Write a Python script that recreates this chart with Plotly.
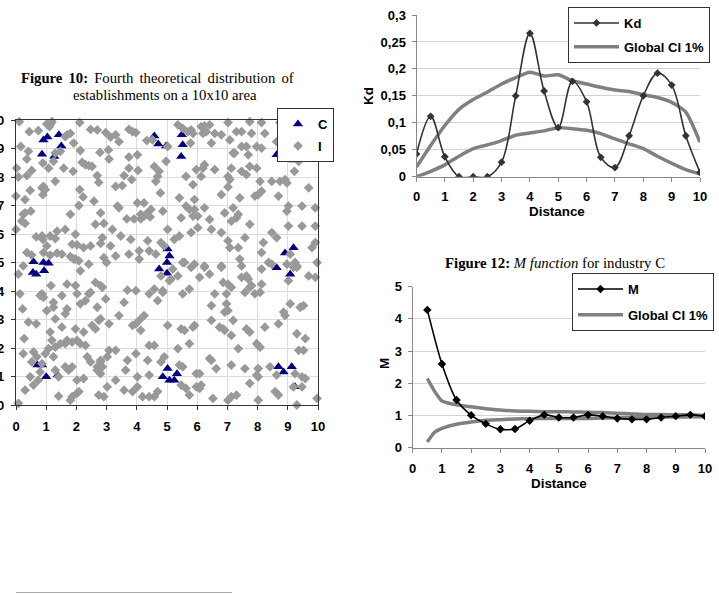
import plotly.graph_objects as go

# ---------------- Figure 10 data (scatter) ----------------
c_points = [
    [0.91, 9.30], [1.04, 9.40], [0.86, 8.80], [1.27, 8.72], [1.42, 9.48], [1.50, 9.09],
    [4.58, 9.44], [4.71, 9.16], [4.97, 9.09], [5.49, 9.48], [5.52, 9.13], [5.47, 8.72],
    [9.11, 9.42], [8.63, 8.78], [8.74, 8.78], [9.19, 8.60],
    [0.58, 5.03], [0.91, 5.00], [1.08, 4.97], [0.56, 4.65], [0.67, 4.59], [0.93, 4.71],
    [5.02, 5.47], [5.08, 5.23], [5.00, 5.00], [5.00, 4.62], [4.74, 4.77],
    [8.63, 4.82], [9.08, 4.59], [8.91, 5.33], [9.19, 5.52],
    [0.71, 1.40], [0.86, 1.40], [1.00, 0.99], [1.38, 1.05],
    [4.86, 0.99], [5.02, 1.28], [5.08, 0.87], [5.24, 0.87], [5.33, 1.10],
    [8.69, 1.34], [8.86, 1.16], [9.13, 1.34], [9.24, 0.64],
]

i_points_nw = [
    [0.11, 9.94], [0.44, 9.59], [0.74, 9.63], [1.02, 9.86], [1.16, 9.88], [1.11, 9.77], [1.19, 9.94],
    [0.16, 9.07], [0.41, 8.90], [0.36, 8.63], [0.52, 8.23], [0.36, 8.05], [0.02, 8.31], [0.08, 8.00],
    [0.00, 7.33], [0.30, 7.21], [0.47, 7.53], [0.86, 7.62], [0.97, 7.56], [0.91, 7.67], [0.89, 7.38],
    [1.30, 7.85], [1.08, 8.31], [0.89, 8.49], [1.24, 8.55], [1.30, 8.84], [1.47, 8.90], [1.69, 9.48],
    [1.80, 9.53], [1.63, 9.42], [1.91, 9.19], [2.11, 9.91], [2.13, 8.93], [1.89, 8.20], [1.58, 8.31],
    [2.11, 7.56], [2.22, 7.30], [2.08, 7.00], [2.58, 7.15], [2.19, 8.51], [2.30, 8.43], [2.41, 8.40],
    [2.52, 8.37], [2.69, 8.05], [2.74, 7.81], [2.78, 8.86], [2.47, 9.67], [2.69, 9.65], [2.97, 9.56],
    [3.13, 9.40], [3.30, 9.48], [3.41, 9.24], [3.06, 8.95], [3.08, 8.63], [3.74, 9.67], [3.86, 9.59],
    [3.97, 9.56], [3.74, 8.70], [3.74, 8.31], [4.02, 8.78], [4.04, 8.23], [3.58, 8.05], [3.83, 7.91],
    [3.52, 7.70], [3.30, 7.67], [3.36, 6.98], [3.41, 6.92], [4.02, 7.09], [4.24, 7.09], [3.67, 6.53],
    [3.91, 6.53], [4.13, 6.53], [4.24, 6.63], [4.30, 6.69], [4.36, 6.74], [4.13, 6.69], [4.47, 6.86],
    [4.44, 6.60], [4.86, 6.80], [4.78, 7.44], [4.63, 7.85], [4.69, 8.02], [4.58, 8.37], [4.74, 8.20],
    [4.33, 9.28], [4.52, 9.30], [4.97, 8.55], [5.02, 9.07], [0.30, 6.74], [0.24, 6.69], [0.49, 6.80],
    [0.19, 6.45], [0.30, 6.37], [0.00, 6.16], [0.67, 5.90], [0.89, 5.81], [0.86, 5.93], [1.13, 5.93],
    [1.30, 5.84], [1.36, 6.10], [1.63, 6.16], [1.80, 6.69], [1.97, 5.99], [1.86, 5.64], [2.02, 5.62],
    [1.97, 5.12], [2.08, 5.06], [2.24, 5.52], [2.47, 5.58], [2.63, 6.34], [2.80, 6.74], [2.91, 6.37],
    [3.19, 6.16], [2.86, 5.87], [2.80, 5.67], [3.13, 5.58], [3.30, 5.23], [3.47, 5.93], [3.80, 5.81],
    [3.74, 5.29], [4.08, 5.41], [4.08, 5.12], [4.36, 5.76], [4.41, 5.41], [4.63, 5.29], [4.80, 5.70],
    [4.91, 5.58], [0.36, 5.35], [0.52, 5.26], [0.91, 5.35], [1.02, 5.58], [1.13, 5.26], [1.36, 5.33],
    [1.52, 5.29], [1.80, 5.21], [1.91, 5.12], [2.41, 4.94], [2.91, 5.17], [3.00, 5.00],
]

i_points_ne = [
    [5.36, 9.83], [5.52, 9.71], [5.69, 9.59], [5.80, 9.65], [5.86, 9.53], [5.78, 9.19], [6.13, 9.77],
    [6.24, 9.79], [6.41, 9.83], [6.19, 9.53], [6.30, 9.59], [6.58, 9.53], [6.47, 9.19], [6.80, 9.48],
    [7.02, 9.91], [7.08, 9.30], [7.30, 9.59], [7.47, 9.59], [7.47, 9.07], [7.19, 8.84], [7.24, 8.84],
    [7.74, 9.94], [8.13, 9.91], [7.80, 9.53], [7.63, 9.07], [7.69, 8.78], [7.97, 9.07], [8.13, 9.01],
    [8.24, 9.53], [8.74, 9.91], [8.63, 9.24], [8.91, 9.01], [9.24, 9.19], [9.36, 8.55], [9.22, 8.20],
    [9.41, 9.94], [5.63, 8.02], [5.86, 7.73], [5.97, 8.26], [6.13, 8.02], [6.24, 8.43], [6.19, 8.31],
    [6.58, 8.26], [7.02, 8.02], [7.08, 7.91], [7.13, 8.31], [7.02, 7.65], [6.80, 7.38], [7.41, 7.27],
    [7.47, 8.20], [7.63, 8.08], [7.74, 8.37], [7.97, 8.31], [8.08, 7.85], [8.13, 7.50], [8.02, 7.38],
    [7.91, 7.33], [8.47, 7.85], [8.74, 7.85], [8.69, 7.33], [8.91, 7.91], [8.97, 7.79], [8.97, 6.80],
    [9.02, 6.98], [9.47, 6.98], [9.69, 7.62], [9.91, 6.92], [9.91, 6.28], [9.47, 6.28], [9.02, 6.28],
    [5.41, 7.27], [5.63, 6.98], [5.91, 7.21], [5.91, 6.86], [5.47, 6.57], [5.74, 6.86], [5.86, 6.63],
    [6.02, 6.63], [6.24, 6.92], [6.41, 6.51], [6.02, 6.22], [5.80, 6.05], [5.41, 5.93], [5.24, 5.81],
    [5.02, 6.16], [6.47, 6.16], [6.80, 6.05], [6.91, 6.74], [7.19, 6.92], [7.13, 6.45], [7.36, 6.69],
    [7.30, 6.57], [7.74, 6.34], [7.02, 5.76], [7.36, 5.52], [7.08, 5.52], [7.41, 5.12], [7.58, 5.87],
    [8.19, 5.70], [8.47, 6.05], [8.63, 5.87], [8.13, 5.35], [8.36, 5.00], [9.08, 5.29], [9.24, 5.00],
    [9.30, 4.83], [9.80, 5.52], [9.91, 5.70], [9.97, 5.00], [5.58, 5.00], [5.91, 4.94], [6.24, 4.88],
    [6.80, 4.88],
]

i_points_sw = [
    [0.08, 4.59], [0.13, 3.90], [0.22, 3.37], [0.41, 2.91], [0.67, 2.85], [0.27, 2.33], [0.24, 1.80],
    [0.30, 0.52], [0.08, 0.06], [0.58, 1.86], [0.80, 3.84], [0.86, 3.90], [0.91, 3.78], [1.02, 3.31],
    [1.16, 4.19], [1.24, 3.60], [1.24, 3.43], [1.30, 3.02], [1.13, 2.56], [1.19, 2.27], [1.52, 2.73],
    [1.63, 3.20], [1.69, 3.37], [1.52, 3.84], [1.69, 4.24], [1.97, 4.19], [2.13, 4.71], [2.02, 3.90],
    [2.13, 3.55], [2.30, 3.66], [2.41, 3.90], [2.47, 3.95], [2.63, 4.30], [2.80, 4.19], [2.86, 4.13],
    [2.97, 3.72], [2.69, 3.43], [1.97, 2.67], [2.24, 2.56], [2.52, 2.79], [2.74, 2.97], [2.80, 3.02],
    [2.63, 2.67], [3.08, 2.85], [3.41, 3.14], [3.58, 3.60], [3.69, 4.03], [3.97, 4.01], [3.86, 2.79],
    [3.97, 2.85], [4.08, 2.97], [4.24, 3.14], [4.13, 2.62], [3.97, 1.80], [3.69, 1.57], [3.63, 1.22],
    [3.08, 1.92], [3.30, 1.92], [3.02, 1.69], [2.80, 1.51], [2.69, 1.34], [2.47, 1.51], [2.36, 1.69],
    [2.30, 2.09], [2.13, 2.15], [2.02, 2.27], [1.86, 2.21], [1.69, 2.27], [1.63, 2.15], [1.47, 2.15],
    [1.30, 2.03], [1.08, 1.98], [0.97, 1.80], [0.69, 1.69], [0.52, 1.51], [0.86, 1.45], [0.47, 0.99],
    [0.58, 0.70], [0.74, 0.87], [0.80, 1.16], [1.24, 1.69], [1.30, 1.22], [1.41, 0.99], [1.63, 1.34],
    [1.74, 1.22], [1.86, 1.34], [2.02, 0.87], [2.08, 0.47], [2.24, 0.93], [2.69, 1.22], [2.80, 1.10],
    [2.80, 1.57], [2.86, 1.34], [2.91, 0.29], [2.74, 0.35], [3.02, 0.64], [3.30, 0.87], [3.58, 0.52],
    [3.86, 0.47], [4.02, 0.99], [4.02, 0.64], [4.19, 0.29], [4.41, 0.29], [4.58, 0.29], [4.69, 0.47],
    [4.41, 1.05], [4.36, 1.57], [4.41, 2.09], [4.58, 2.09], [4.80, 1.51], [4.91, 1.69], [5.02, 2.79],
    [5.08, 4.36], [4.80, 4.53], [4.86, 4.01], [4.69, 3.66], [4.41, 3.90], [4.58, 4.07], [1.86, 0.29],
    [1.80, 0.17], [1.41, 0.31], [2.02, 0.41], [0.24, 4.88],
]

i_points_se = [
    [5.52, 5.00], [5.80, 4.83], [6.24, 4.83], [6.41, 4.59], [6.80, 4.83], [7.47, 4.88], [7.47, 4.48],
    [7.63, 4.53], [7.69, 4.42], [8.13, 4.77], [8.47, 4.94], [8.97, 4.94], [9.19, 4.83], [9.30, 4.88],
    [9.69, 4.53], [9.91, 4.48], [5.19, 4.77], [5.36, 4.53], [5.13, 4.42], [4.86, 3.95], [5.52, 3.90],
    [5.74, 4.07], [6.08, 4.48], [6.58, 3.90], [6.86, 4.30], [7.02, 4.24], [7.13, 4.13], [6.97, 3.90],
    [7.58, 3.95], [7.74, 4.13], [7.91, 3.90], [8.08, 3.95], [8.13, 4.24], [7.80, 4.19], [9.02, 4.36],
    [9.08, 3.55], [9.41, 3.43], [9.52, 3.49], [8.86, 3.26], [8.91, 3.14], [8.69, 2.85], [9.30, 2.50],
    [9.58, 2.33], [9.36, 1.92], [9.52, 1.92], [6.47, 3.49], [6.97, 3.55], [7.02, 3.31], [6.91, 3.26],
    [6.47, 2.97], [7.19, 2.97], [7.63, 2.67], [7.74, 2.56], [6.74, 2.73], [6.86, 2.67], [6.91, 2.62],
    [7.13, 2.44], [7.36, 1.98], [7.97, 2.15], [8.08, 2.03], [8.24, 2.73], [5.47, 2.67], [5.58, 2.62],
    [5.86, 2.73], [5.91, 2.79], [5.74, 2.15], [5.36, 1.98], [5.52, 1.34], [5.41, 1.40], [5.97, 1.10],
    [6.08, 1.10], [6.47, 1.57], [6.41, 1.63], [6.63, 1.28], [7.13, 1.40], [7.58, 1.28], [8.02, 1.28],
    [8.02, 0.99], [8.41, 1.34], [8.63, 1.05], [9.24, 1.10], [9.47, 0.99], [9.58, 0.93], [9.19, 0.64],
    [9.47, 0.64], [8.58, 0.47], [8.69, 0.35], [8.02, 0.17], [7.97, 1.05], [7.74, 0.76], [7.02, 0.17],
    [7.13, 0.29], [7.30, 0.35], [6.52, 0.23], [6.13, 0.70], [5.97, 0.64], [6.08, 0.58], [5.63, 0.58],
    [5.47, 0.70], [5.74, 0.35], [9.30, 0.00], [9.97, 0.23],
]

grid_ticks = list(range(0, 11))
grid_ticklabels = [str(v) for v in grid_ticks]

# ---------------- Figure 11 data (Kd) ----------------
distance = [0, 0.5, 1, 1.5, 2, 2.5, 3, 3.5, 4, 4.5, 5, 5.5, 6, 6.5, 7, 7.5, 8, 8.5, 9, 9.5, 10]
kd_values = [0.042, 0.112, 0.037, 0.0, 0.0, 0.0, 0.027, 0.150, 0.266, 0.159, 0.091, 0.177, 0.139,
             0.036, 0.017, 0.076, 0.150, 0.192, 0.170, 0.076, 0.008]
kd_ci_upper = [0.018, 0.058, 0.095, 0.125, 0.143, 0.157, 0.172, 0.184, 0.194, 0.187, 0.189, 0.178,
               0.172, 0.166, 0.161, 0.158, 0.152, 0.147, 0.138, 0.120, 0.064]
kd_ci_lower = [0.0, 0.010, 0.022, 0.038, 0.052, 0.059, 0.067, 0.077, 0.081, 0.085, 0.091, 0.089,
               0.086, 0.080, 0.070, 0.061, 0.052, 0.038, 0.025, 0.013, 0.005]
kd_yticks = [0, 0.05, 0.1, 0.15, 0.2, 0.25, 0.3]
kd_yticklabels = ["0", "0,05", "0,1", "0,15", "0,2", "0,25", "0,3"]

# ---------------- Figure 12 data (M) ----------------
m_distance = [0.5, 1, 1.5, 2, 2.5, 3, 3.5, 4, 4.5, 5, 5.5, 6, 6.5, 7, 7.5, 8, 8.5, 9, 9.5, 10]
m_values = [4.28, 2.60, 1.48, 1.01, 0.74, 0.57, 0.58, 0.84, 1.02, 0.94, 0.94, 1.02, 0.98, 0.91,
            0.88, 0.88, 0.94, 0.98, 1.02, 0.98]
m_ci_distance = [0.5, 0.75, 1, 1.5, 2, 2.5, 3, 3.5, 4, 4.5, 5, 5.5, 6, 6.5, 7, 7.5, 8, 8.5, 9, 9.5, 10]
m_ci_upper = [2.15, 1.75, 1.45, 1.33, 1.27, 1.21, 1.17, 1.14, 1.13, 1.12, 1.12, 1.11, 1.10, 1.09,
              1.07, 1.05, 1.03, 1.03, 1.02, 1.02, 1.00]
m_ci_lower = [0.18, 0.48, 0.60, 0.73, 0.80, 0.85, 0.87, 0.89, 0.90, 0.91, 0.91, 0.91, 0.91, 0.92,
              0.93, 0.93, 0.94, 0.95, 0.95, 0.96, 0.96]
m_yticks = [0, 1, 2, 3, 4, 5]

# ---------------- styling ----------------
W, H = 719, 594
SANS = "Liberation Sans, Arial, sans-serif"
SERIF = "Liberation Serif, Times New Roman, serif"
CI_GRAY = "#808080"
JGAP = " \u200a\u200a"  # justified-looking word gap in the first caption line


def px_x(p):
    return p / W


def px_y(p):
    return 1 - p / H


fig = go.Figure()

# Scatter: C then I
fig.add_trace(go.Scatter(
    x=[p[0] for p in c_points], y=[p[1] for p in c_points], mode="markers", name="C",
    marker=dict(symbol="triangle-up", size=9, color="#000080"),
    xaxis="x", yaxis="y", legend="legend", cliponaxis=False, legendgroup="c"))
i_all = i_points_nw + i_points_ne + i_points_sw + i_points_se
fig.add_trace(go.Scatter(
    x=[p[0] for p in i_all], y=[p[1] for p in i_all], mode="markers", name="I",
    marker=dict(symbol="diamond", size=7.5, color="#999999"),
    xaxis="x", yaxis="y", legend="legend", cliponaxis=False, legendgroup="i"))

# Kd chart
fig.add_trace(go.Scatter(
    x=distance, y=kd_ci_upper, mode="lines", name="Global CI 1%",
    line=dict(color=CI_GRAY, width=3.5, shape="spline", smoothing=0.6),
    xaxis="x2", yaxis="y2", legend="legend2", legendgroup="kdci", legendrank=2))
fig.add_trace(go.Scatter(
    x=distance, y=kd_ci_lower, mode="lines", name="Global CI 1%", showlegend=False,
    line=dict(color=CI_GRAY, width=3.5, shape="spline", smoothing=0.6),
    xaxis="x2", yaxis="y2", legend="legend2", legendgroup="kdci"))
fig.add_trace(go.Scatter(
    x=distance, y=kd_values, mode="lines+markers", name="Kd",
    line=dict(color="#333333", width=1.6, shape="spline", smoothing=1.0),
    marker=dict(symbol="diamond", size=6, color="#333333"),
    xaxis="x2", yaxis="y2", legend="legend2", legendgroup="kd", legendrank=1))

# M chart
fig.add_trace(go.Scatter(
    x=m_ci_distance, y=m_ci_upper, mode="lines", name="Global CI 1%",
    line=dict(color=CI_GRAY, width=3.5, shape="spline", smoothing=0.5),
    xaxis="x3", yaxis="y3", legend="legend3", legendgroup="mci", legendrank=2))
fig.add_trace(go.Scatter(
    x=m_ci_distance, y=m_ci_lower, mode="lines", name="Global CI 1%", showlegend=False,
    line=dict(color=CI_GRAY, width=3.5, shape="spline", smoothing=0.5),
    xaxis="x3", yaxis="y3", legend="legend3", legendgroup="mci"))
fig.add_trace(go.Scatter(
    x=m_distance, y=m_values, mode="lines+markers", name="M",
    line=dict(color="#000000", width=1.6, shape="spline", smoothing=0.7),
    marker=dict(symbol="diamond", size=6.5, color="#000000"),
    xaxis="x3", yaxis="y3", legend="legend3", legendgroup="m", legendrank=1))

tickfont_sc = dict(family=SANS, size=13, color="#000000", weight="bold")
tickfont_sm = dict(family=SANS, size=13, color="#000000", weight="bold")

axis_common = dict(showgrid=True, zeroline=False, showline=True, ticks="outside", ticklen=4,
                   automargin=False)

legend_common = dict(bgcolor="#ffffff", bordercolor="#333333", borderwidth=1,
                     font=dict(family=SANS, size=13, color="#000000", weight="bold"),
                     traceorder="grouped", itemclick=False, itemdoubleclick=False)

fig.update_layout(
    width=W, height=H,
    margin=dict(l=0, r=0, t=0, b=0, pad=0, autoexpand=False),
    paper_bgcolor="#ffffff", plot_bgcolor="#ffffff",
    xaxis=dict(domain=[px_x(16), px_x(318)], range=[0, 10], anchor="y",
               tickvals=grid_ticks, ticktext=grid_ticklabels, tickfont=tickfont_sc,
               gridcolor="#dcdcdc", linecolor="#333333", linewidth=1.2, mirror=True,
               tickcolor="#333333", ticklabelstandoff=5, **axis_common),
    yaxis=dict(domain=[px_y(405), px_y(120)], range=[0, 10], anchor="x",
               tickvals=grid_ticks, ticktext=grid_ticklabels, tickfont=tickfont_sc,
               gridcolor="#dcdcdc", linecolor="#333333", linewidth=1.2, mirror=True,
               tickcolor="#333333", ticklabelstandoff=4, **axis_common),
    xaxis2=dict(domain=[px_x(416.5), px_x(700)], range=[0, 10], anchor="y2",
                tickvals=grid_ticks, ticktext=grid_ticklabels, tickfont=tickfont_sm,
                linecolor="#888888", tickcolor="#888888", ticklabelstandoff=4,
                **{**axis_common, "showgrid": False}),
    yaxis2=dict(domain=[px_y(176.7), px_y(15)], range=[0, 0.3], anchor="x2",
                tickvals=kd_yticks, ticktext=kd_yticklabels, tickfont=tickfont_sm,
                gridcolor="#d4d4d4", linecolor="#888888", tickcolor="#888888",
                ticklabelstandoff=3, **axis_common),
    xaxis3=dict(domain=[px_x(412.7), px_x(705)], range=[0, 10], anchor="y3",
                tickvals=grid_ticks, ticktext=grid_ticklabels, tickfont=tickfont_sm,
                linecolor="#888888", tickcolor="#888888", ticklabelstandoff=5,
                **{**axis_common, "showgrid": False}),
    yaxis3=dict(domain=[px_y(447.7), px_y(286.7)], range=[0, 5], anchor="x3",
                tickvals=m_yticks, tickfont=tickfont_sm,
                gridcolor="#d4d4d4", linecolor="#888888", tickcolor="#888888",
                ticklabelstandoff=3, **axis_common),
    legend=dict(x=px_x(334), xanchor="right", y=px_y(108), yanchor="top",
                tracegroupgap=2, itemwidth=30, **legend_common),
    legend2=dict(x=px_x(568), xanchor="left", y=px_y(7), yanchor="top",
                 tracegroupgap=4, itemwidth=45, **legend_common),
    legend3=dict(x=px_x(572), xanchor="left", y=px_y(273), yanchor="top",
                 tracegroupgap=6, itemwidth=45, **legend_common),
    showlegend=True,
)

caption10_line1 = JGAP.join(["<b>Figure", "10:</b>", "Fourth", "theoretical", "distribution", "of"])
annotations = [
    dict(text=caption10_line1, x=px_x(157.5), y=px_y(78),
         font=dict(family=SERIF, size=14.7, color="#000000")),
    dict(text="establishments on a 10x10 area", x=px_x(165), y=px_y(95),
         font=dict(family=SERIF, size=14.7, color="#000000")),
    dict(text="<b>Figure 12:</b> <i>M function</i> for industry C", x=px_x(555), y=px_y(263),
         font=dict(family=SERIF, size=14.8, color="#000000")),
    dict(text="<b>Kd</b>", x=px_x(368), y=px_y(96), textangle=-90,
         font=dict(family=SANS, size=13.4, color="#000000")),
    dict(text="<b>Distance</b>", x=px_x(557), y=px_y(211),
         font=dict(family=SANS, size=13.4, color="#000000")),
    dict(text="<b>M</b>", x=px_x(384), y=px_y(364), textangle=-90,
         font=dict(family=SANS, size=13.4, color="#000000")),
    dict(text="<b>Distance</b>", x=px_x(559), y=px_y(483),
         font=dict(family=SANS, size=13.4, color="#000000")),
]
for a in annotations:
    a.update(xref="paper", yref="paper", showarrow=False, xanchor="center", yanchor="middle")
fig.update_layout(annotations=annotations)

fig.add_shape(type="line", xref="paper", yref="paper",
              x0=px_x(16), x1=px_x(232), y0=px_y(592.5), y1=px_y(592.5),
              line=dict(color="#aaaaaa", width=1))

fig.write_html("out.html")
